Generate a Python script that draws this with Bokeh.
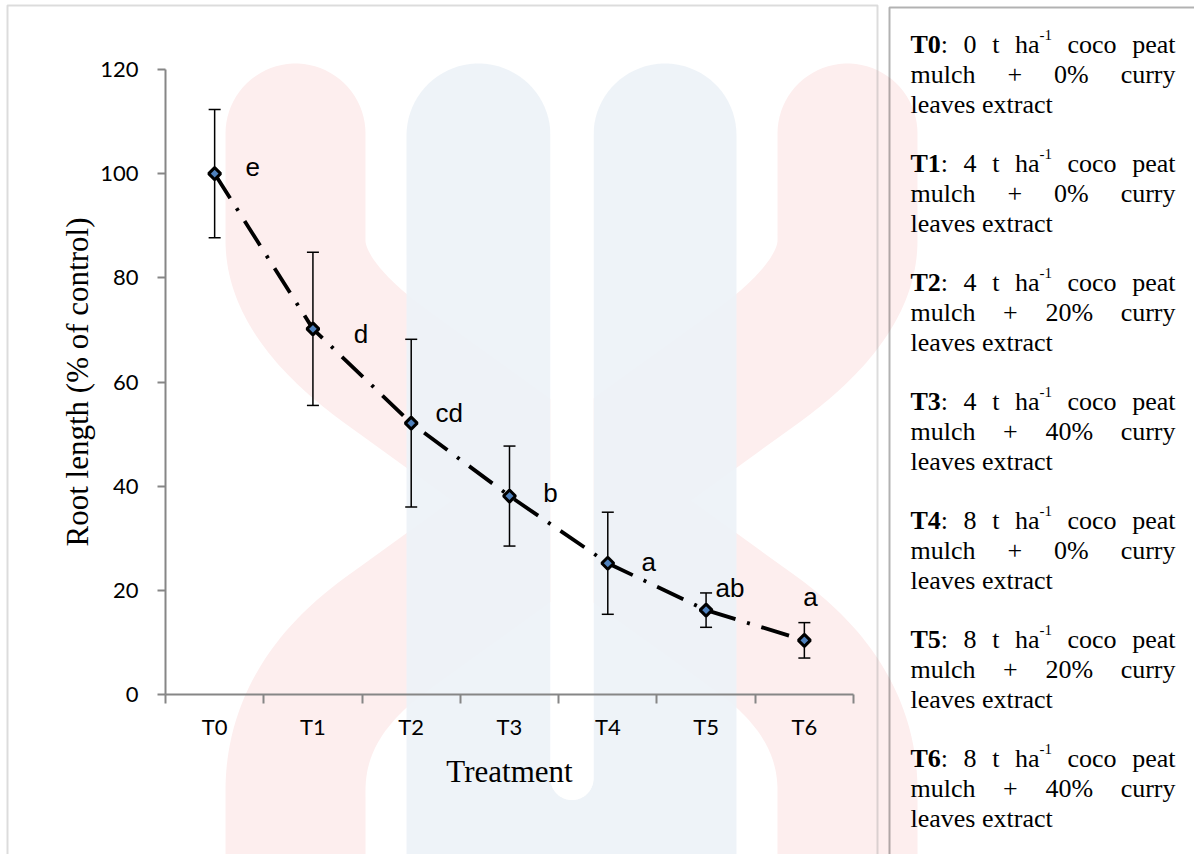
import numpy as np
from bokeh.plotting import figure
from bokeh.models import (Range1d, LinearAxis, FixedTicker, Whisker, TeeHead,
                          ColumnDataSource, Label, BoxAnnotation, PolyAnnotation)
from bokeh.core.properties import value
from bokeh.embed import file_html
from bokeh.resources import INLINE

# ---------------- data ----------------
treatments = ["T0", "T1", "T2", "T3", "T4", "T5", "T6"]
root_length = [100.0, 70.2, 52.1, 38.1, 25.2, 16.2, 10.4]
std_error = [12.3, 14.7, 16.1, 9.6, 9.8, 3.3, 3.4]
letters = ["e", "d", "cd", "b", "a", "ab", "a"]
y_ticks = [0, 20, 40, 60, 80, 100, 120]
mulch_t_ha = [0, 4, 4, 4, 8, 8, 8]
extract_pct = [0, 0, 20, 40, 0, 20, 40]

# ---------------- styles / layout ----------------
letter_dx = [38, 48, 38, 41, 41, 24, 6]
letter_dy = [-7, 5, -10, -3, -1, -22, -43]

W, H = 1194, 854
# pixel positions of the plotting area (x: first/last category edge, y: 0 and top tick)
PX_LEFT, PX_RIGHT, PX_ZERO, PX_TOP = 165, 853, 694, 69
AX = "#868686"

ncat = len(treatments)
kx = (PX_RIGHT - PX_LEFT) / ncat
ky = (PX_ZERO - PX_TOP) / y_ticks[-1]

p = figure(width=W, height=H,
           x_range=Range1d(-PX_LEFT / kx, (W - PX_LEFT) / kx),
           y_range=Range1d(-(H - PX_ZERO) / ky, PX_ZERO / ky),
           x_axis_type=None, y_axis_type=None, output_backend="svg", toolbar_location=None,
           min_border=0, min_border_left=0, min_border_right=0,
           min_border_top=0, min_border_bottom=0)
p.outline_line_color = None
p.background_fill_color = "white"
p.border_fill_color = "white"


def sx(px):
    return px


def sy(py):
    return H - py


# ---------------- faint watermark (decoration) ----------------
def seg(p0, p1, n=20):
    t = np.linspace(0, 1, n)[:, None]
    return (1 - t) * np.array(p0, float) + t * np.array(p1, float)


def qbez(p0, p1, p2, n=40):
    t = np.linspace(0, 1, n)[:, None]
    p0, p1, p2 = (np.array(q, float) for q in (p0, p1, p2))
    return (1 - t) ** 2 * p0 + 2 * (1 - t) * t * p1 + t ** 2 * p2


def arc(cx, cy, r, a0, a1, n=40):
    t = np.linspace(a0, a1, n)
    return np.column_stack([cx + r * np.cos(t), cy + r * np.sin(t)])


def stroke(parts, hw):
    c = np.vstack(parts)
    keep = np.r_[True, np.any(np.abs(np.diff(c, axis=0)) > 1e-9, axis=1)]
    c = c[keep]
    d = np.gradient(c, axis=0)
    d /= np.linalg.norm(d, axis=1)[:, None]
    nrm = np.column_stack([-d[:, 1], d[:, 0]])
    a = c + hw * nrm
    b = c - hw * nrm
    cap = arc(c[0, 0], c[0, 1], hw, 0, -np.pi)
    return np.vstack([a, b[::-1], cap])


def add_poly(pts, color, alpha=1.0):
    pa = PolyAnnotation(xs=[sx(x) for x in pts[:, 0]], ys=[sy(y) for y in pts[:, 1]],
                        xs_units="screen", ys_units="screen", fill_color=color,
                        fill_alpha=alpha, line_color=None, level="underlay")
    p.add_layout(pa)


centre_a = [seg((295, 133), (295, 240)), qbez((295, 240), (295, 300), (384, 365)),
            seg((384, 365), (758, 635)), qbez((758, 635), (847, 700), (847, 790)),
            seg((847, 790), (847, 900))]
stroke_a = stroke(centre_a, 70)
stroke_b = stroke([np.column_stack([1142 - q[:, 0], q[:, 1]]) for q in centre_a], 70)
add_poly(stroke_a, "#fdeeee")
add_poly(stroke_b, "#fdeeee")

u_shape = np.vstack([
    [[406, 900]], arc(478, 135, 72, np.pi, 2 * np.pi), [[550, 778]],
    arc(571.5, 778, 21.5, np.pi, 0), arc(664.5, 134.5, 71.5, np.pi, 2 * np.pi), [[736, 900]]])
add_poly(u_shape, "#ecf2f7", 0.9)
slot = np.vstack([[[550, 60]], arc(571.5, 778, 21.5, np.pi, 0), [[593, 60]]])
add_poly(slot, "white")

# ---------------- axes ----------------
xpos = [i + 0.5 for i in range(ncat)]
xaxis = LinearAxis(ticker=FixedTicker(ticks=xpos, minor_ticks=list(range(ncat + 1))),
                   major_label_overrides={x: t for x, t in zip(xpos, treatments)},
                   fixed_location=0, bounds=(0, ncat))
xaxis.axis_line_color = AX
xaxis.axis_line_width = 2
xaxis.major_tick_line_color = None
xaxis.major_tick_out = 0
xaxis.major_tick_in = 0
xaxis.minor_tick_line_color = AX
xaxis.minor_tick_line_width = 2
xaxis.minor_tick_out = 9
xaxis.minor_tick_in = 0
xaxis.major_label_text_font = "Lato"
xaxis.major_label_text_font_size = "22px"
xaxis.major_label_text_color = "black"
xaxis.major_label_standoff = 9
xaxis.axis_label = "Treatment"
xaxis.axis_label_text_font = "Liberation Serif"
xaxis.axis_label_text_font_size = "31px"
xaxis.axis_label_text_font_style = "normal"
xaxis.axis_label_text_color = "black"
xaxis.axis_label_standoff = 11
p.add_layout(xaxis, "below")

yaxis = LinearAxis(ticker=FixedTicker(ticks=y_ticks, minor_ticks=[]),
                   fixed_location=0, bounds=(0, y_ticks[-1]))
yaxis.axis_line_color = AX
yaxis.axis_line_width = 2
yaxis.major_tick_line_color = AX
yaxis.major_tick_line_width = 2
yaxis.major_tick_out = 8
yaxis.major_tick_in = 0
yaxis.minor_tick_line_color = None
yaxis.major_label_text_font = "Lato"
yaxis.major_label_text_font_size = "22px"
yaxis.major_label_text_color = "black"
yaxis.major_label_standoff = 19
yaxis.axis_label = "Root length (% of control)"
yaxis.axis_label_text_font = "Liberation Serif"
yaxis.axis_label_text_font_size = "31px"
yaxis.axis_label_text_font_style = "normal"
yaxis.axis_label_text_color = "black"
yaxis.axis_label_standoff = 2
p.add_layout(yaxis, "left")

# ---------------- series ----------------
src = ColumnDataSource(dict(
    x=xpos, y=root_length,
    upper=[v + e for v, e in zip(root_length, std_error)],
    lower=[v - e for v, e in zip(root_length, std_error)],
    letter=letters, dx=letter_dx, dy=letter_dy))

wh = Whisker(base="x", upper="upper", lower="lower", source=src, dimension="height",
             line_color="black", line_width=1.5, level="underlay",
             upper_head=TeeHead(size=12, line_color="black", line_width=1.5),
             lower_head=TeeHead(size=12, line_color="black", line_width=1.5))
p.add_layout(wh)

p.line("x", "y", source=src, line_color="black", line_width=3.8, line_dash="29 12 3 12")
p.scatter("x", "y", source=src, marker="square", size=8.5, angle=np.pi / 4,
          fill_color="#4f81bd", line_color="black", line_width=3)
p.text("x", "y", text="letter", source=src, x_offset="dx", y_offset="dy",
       text_font=value("Liberation Sans"), text_font_size=value("26px"),
       text_align="center", text_baseline="middle", text_color="black")

# ---------------- panel borders ----------------
p.add_layout(BoxAnnotation(left=sx(7), right=sx(877), top=sy(5), bottom=sy(1000),
                           left_units="screen", right_units="screen",
                           top_units="screen", bottom_units="screen",
                           fill_color=None, fill_alpha=0, line_color="#8c8c8c", line_width=2))
p.add_layout(BoxAnnotation(left=sx(889), right=sx(1400), top=sy(7), bottom=sy(1000),
                           left_units="screen", right_units="screen",
                           top_units="screen", bottom_units="screen",
                           fill_color=None, fill_alpha=0, line_color="black", line_width=2))

# ---------------- treatment key (justified text) ----------------
FS, SUP = 26, 15
TIMES = {' ': 250, '%': 833, '+': 564, '-': 333, ':': 278, 'T': 611, 'a': 444, 'c': 444,
         'e': 444, 'h': 500, 'l': 278, 'm': 778, 'o': 500, 'p': 500, 'r': 333, 's': 389,
         't': 278, 'u': 500, 'v': 500, 'x': 500, 'y': 500}


def tw(s, style):
    size = SUP if style == "sup" else FS
    w = 0
    for ch in s:
        if ch.isdigit():
            w += 500
        elif style == "b" and ch == "T":
            w += 667
        else:
            w += TIMES[ch]
    return w * size / 1000.0


def put(text, px, py, style="n", align="left"):
    p.add_layout(Label(x=sx(px), y=sy(py), x_units="screen", y_units="screen", text=text,
                       text_font="Liberation Serif",
                       text_font_size="%dpx" % (SUP if style == "sup" else FS),
                       text_font_style="bold" if style == "b" else "normal",
                       text_color="black", text_align=align, text_baseline="alphabetic"))


def justified(words, left, right, base):
    widths = [sum(tw(t, s) for t, s in wd) for wd in words]
    gap = (right - left - sum(widths)) / (len(words) - 1)
    x = left
    for k, wd in enumerate(words):
        if k == len(words) - 1 and len(wd) == 1:
            put(wd[0][0], right, base, wd[0][1], "right")
            break
        for t, s in wd:
            put(t, x, base - (10 if s == "sup" else 0), s)
            x += tw(t, s)
        x += gap


KL, KR = 910, 1175
for i, code in enumerate(treatments):
    b0 = 44 + 119 * i
    justified([[(code, "b"), (":", "n")], [(str(mulch_t_ha[i]), "n")], [("t", "n")],
               [("ha", "n"), ("-1", "sup")], [("coco", "n")], [("peat", "n")]], KL, KR, b0)
    justified([[("mulch", "n")], [("+", "n")], [("%d%%" % extract_pct[i], "n")],
               [("curry", "n")]], KL, KR, b0 + 30)
    put("leaves extract", KL, b0 + 60)

open("out.html", "w").write(file_html(p, INLINE))
